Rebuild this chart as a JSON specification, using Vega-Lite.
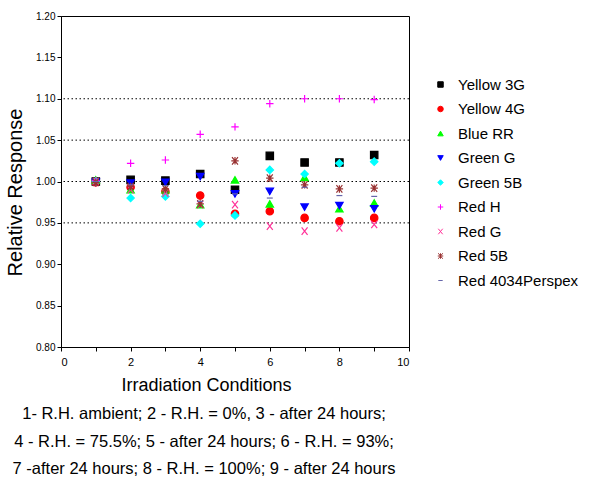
{
  "$schema": "https://vega.github.io/schema/vega-lite/v6.json",
  "width": 348,
  "height": 331,
  "autosize": {"type": "none"},
  "padding": {"left": 61, "top": 16, "right": 187, "bottom": 134},
  "background": "white",
  "config": {
    "font": "Liberation Sans",
    "view": {"stroke": "black", "strokeWidth": 1},
    "axis": {"labelFont": "Liberation Sans", "titleFont": "Liberation Sans", "labelColor": "black", "titleColor": "black", "domainColor": "black", "tickColor": "black"},
    "legend": {
      "title": null,
      "orient": "none",
      "legendX": 372,
      "legendY": 61,
      "labelFontSize": 15,
      "labelFont": "Liberation Sans",
      "labelColor": "black",
      "symbolSize": 30,
      "symbolStrokeWidth": 1,
      "rowPadding": 8.5,
      "labelOffset": 10,
      "labelLimit": 200
    }
  },
  "title": {
    "text": ["1- R.H. ambient; 2 - R.H. = 0%, 3 - after 24 hours;", "4 -  R.H.  = 75.5%;  5 -  after 24  hours; 6 -  R.H. = 93%;", "7 -after  24 hours;  8 - R.H. =  100%; 9 - after  24 hours"],
    "orient": "bottom",
    "anchor": "middle",
    "fontSize": 16.5,
    "fontWeight": "normal",
    "font": "Liberation Sans",
    "color": "black",
    "lineHeight": 27.5,
    "offset": 12,
    "dx": -31
  },
  "datasets": {
    "grid": [{"g": 0.95}, {"g": 1.0}, {"g": 1.05}, {"g": 1.1}],
    "pts": [
      {"cond": 1, "sample": "Yellow 3G", "value": 1.000},
      {"cond": 2, "sample": "Yellow 3G", "value": 1.002},
      {"cond": 3, "sample": "Yellow 3G", "value": 1.001},
      {"cond": 4, "sample": "Yellow 3G", "value": 1.009},
      {"cond": 5, "sample": "Yellow 3G", "value": 0.990},
      {"cond": 6, "sample": "Yellow 3G", "value": 1.031},
      {"cond": 7, "sample": "Yellow 3G", "value": 1.023},
      {"cond": 8, "sample": "Yellow 3G", "value": 1.023},
      {"cond": 9, "sample": "Yellow 3G", "value": 1.032},
      {"cond": 1, "sample": "Yellow 4G", "value": 0.999},
      {"cond": 2, "sample": "Yellow 4G", "value": 0.993},
      {"cond": 3, "sample": "Yellow 4G", "value": 0.988},
      {"cond": 4, "sample": "Yellow 4G", "value": 0.983},
      {"cond": 5, "sample": "Yellow 4G", "value": 0.961},
      {"cond": 6, "sample": "Yellow 4G", "value": 0.964},
      {"cond": 7, "sample": "Yellow 4G", "value": 0.956},
      {"cond": 8, "sample": "Yellow 4G", "value": 0.952},
      {"cond": 9, "sample": "Yellow 4G", "value": 0.956},
      {"cond": 1, "sample": "Blue RR", "value": 1.002},
      {"cond": 2, "sample": "Blue RR", "value": 0.990},
      {"cond": 3, "sample": "Blue RR", "value": 0.990},
      {"cond": 4, "sample": "Blue RR", "value": 0.972},
      {"cond": 5, "sample": "Blue RR", "value": 1.002},
      {"cond": 6, "sample": "Blue RR", "value": 0.973},
      {"cond": 7, "sample": "Blue RR", "value": 1.005},
      {"cond": 8, "sample": "Blue RR", "value": 0.967},
      {"cond": 9, "sample": "Blue RR", "value": 0.974},
      {"cond": 1, "sample": "Green G", "value": 0.999},
      {"cond": 2, "sample": "Green G", "value": 0.998},
      {"cond": 3, "sample": "Green G", "value": 0.999},
      {"cond": 4, "sample": "Green G", "value": 1.006},
      {"cond": 5, "sample": "Green G", "value": 0.985},
      {"cond": 6, "sample": "Green G", "value": 0.988},
      {"cond": 7, "sample": "Green G", "value": 0.969},
      {"cond": 8, "sample": "Green G", "value": 0.971},
      {"cond": 9, "sample": "Green G", "value": 0.967},
      {"cond": 1, "sample": "Green 5B", "value": 1.000},
      {"cond": 2, "sample": "Green 5B", "value": 0.980},
      {"cond": 3, "sample": "Green 5B", "value": 0.982},
      {"cond": 4, "sample": "Green 5B", "value": 0.949},
      {"cond": 5, "sample": "Green 5B", "value": 0.959},
      {"cond": 6, "sample": "Green 5B", "value": 1.014},
      {"cond": 7, "sample": "Green 5B", "value": 1.009},
      {"cond": 8, "sample": "Green 5B", "value": 1.022},
      {"cond": 9, "sample": "Green 5B", "value": 1.024},
      {"cond": 1, "sample": "Red H", "value": 1.001},
      {"cond": 2, "sample": "Red H", "value": 1.022},
      {"cond": 3, "sample": "Red H", "value": 1.026},
      {"cond": 4, "sample": "Red H", "value": 1.057},
      {"cond": 5, "sample": "Red H", "value": 1.066},
      {"cond": 6, "sample": "Red H", "value": 1.094},
      {"cond": 7, "sample": "Red H", "value": 1.100},
      {"cond": 8, "sample": "Red H", "value": 1.100},
      {"cond": 9, "sample": "Red H", "value": 1.099},
      {"cond": 1, "sample": "Red G", "value": 1.000},
      {"cond": 2, "sample": "Red G", "value": 0.990},
      {"cond": 3, "sample": "Red G", "value": 0.986},
      {"cond": 4, "sample": "Red G", "value": 0.972},
      {"cond": 5, "sample": "Red G", "value": 0.972},
      {"cond": 6, "sample": "Red G", "value": 0.946},
      {"cond": 7, "sample": "Red G", "value": 0.940},
      {"cond": 8, "sample": "Red G", "value": 0.944},
      {"cond": 9, "sample": "Red G", "value": 0.948},
      {"cond": 1, "sample": "Red 5B", "value": 0.999},
      {"cond": 2, "sample": "Red 5B", "value": 0.994},
      {"cond": 3, "sample": "Red 5B", "value": 0.991},
      {"cond": 4, "sample": "Red 5B", "value": 0.973},
      {"cond": 5, "sample": "Red 5B", "value": 1.025},
      {"cond": 6, "sample": "Red 5B", "value": 1.004},
      {"cond": 7, "sample": "Red 5B", "value": 0.996},
      {"cond": 8, "sample": "Red 5B", "value": 0.991},
      {"cond": 9, "sample": "Red 5B", "value": 0.992},
      {"cond": 1, "sample": "Red 4034Perspex", "value": 1.000},
      {"cond": 2, "sample": "Red 4034Perspex", "value": 0.996},
      {"cond": 3, "sample": "Red 4034Perspex", "value": 0.995},
      {"cond": 4, "sample": "Red 4034Perspex", "value": 0.976},
      {"cond": 5, "sample": "Red 4034Perspex", "value": 0.985},
      {"cond": 6, "sample": "Red 4034Perspex", "value": 0.980},
      {"cond": 7, "sample": "Red 4034Perspex", "value": 0.993},
      {"cond": 8, "sample": "Red 4034Perspex", "value": 0.983},
      {"cond": 9, "sample": "Red 4034Perspex", "value": 0.982}
    ]
  },
  "layer": [
    {
      "data": {"name": "grid"},
      "mark": {"type": "rule", "color": "black", "strokeDash": [1.5, 2.5], "strokeWidth": 1},
      "encoding": {"y": {"field": "g", "type": "quantitative", "scale": {"domain": [0.8, 1.2]}}}
    },
    {
      "data": {"name": "pts"},
      "mark": {"type": "point", "filled": true, "strokeWidth": 1.2, "opacity": 1},
      "encoding": {
        "x": {
          "field": "cond", "type": "quantitative",
          "scale": {"domain": [0, 10], "nice": false, "zero": false},
          "axis": {"values": [0,1,2,3,4,5,6,7,8,9,10], "labelExpr": "datum.value % 2 == 0 ? datum.label : ''", "grid": false, "tickSize": 4, "labelFontSize": 11, "labelPadding": 5, "title": "Irradiation Conditions", "titleFontSize": 18, "titleFontWeight": "normal", "titlePadding": 9, "titleX": 145}
        },
        "y": {
          "field": "value", "type": "quantitative",
          "scale": {"domain": [0.8, 1.2], "nice": false, "zero": false},
          "axis": {"values": [0.8,0.825,0.85,0.875,0.9,0.925,0.95,0.975,1.0,1.025,1.05,1.075,1.1,1.125,1.15,1.175,1.2], "labelExpr": "round(datum.value*1000) % 50 == 0 ? format(datum.value, '.2f') : ''", "grid": false, "tickSize": 4, "labelFontSize": 10, "labelPadding": 2, "title": "Relative Response", "titleFontSize": 20, "titleFontWeight": "normal", "titlePadding": 10, "titleY": 176}
        },
        "shape": {
          "field": "sample", "type": "nominal",
          "scale": {
            "domain": ["Yellow 3G", "Yellow 4G", "Blue RR", "Green G", "Green 5B", "Red H", "Red G", "Red 5B", "Red 4034Perspex"],
            "range": ["square", "circle", "triangle-up", "triangle-down", "diamond", "M-1,0H1M0,-1V1", "M-0.8,-1L0.8,1M-0.8,1L0.8,-1", "M-0.8,-1L0.8,1M-0.8,1L0.8,-1M0,-1V1M-1,0H1", "M-0.8,0H0.8"]
          }
        },
        "fill": {
          "field": "sample", "type": "nominal",
          "scale": {
            "domain": ["Yellow 3G", "Yellow 4G", "Blue RR", "Green G", "Green 5B", "Red H", "Red G", "Red 5B", "Red 4034Perspex"],
            "range": ["#000000", "#ff0000", "#00ff00", "#0000ff", "#00ffff", "#ff00ff", "#ff3399", "#993333", "#6666aa"]
          }
        },
        "stroke": {
          "field": "sample", "type": "nominal",
          "scale": {
            "domain": ["Yellow 3G", "Yellow 4G", "Blue RR", "Green G", "Green 5B", "Red H", "Red G", "Red 5B", "Red 4034Perspex"],
            "range": ["#000000", "#ff0000", "#00ff00", "#0000ff", "#00ffff", "#ff00ff", "#ff3399", "#993333", "#6666aa"]
          }
        },
        "size": {"value": 55}
      }
    }
  ]
}
